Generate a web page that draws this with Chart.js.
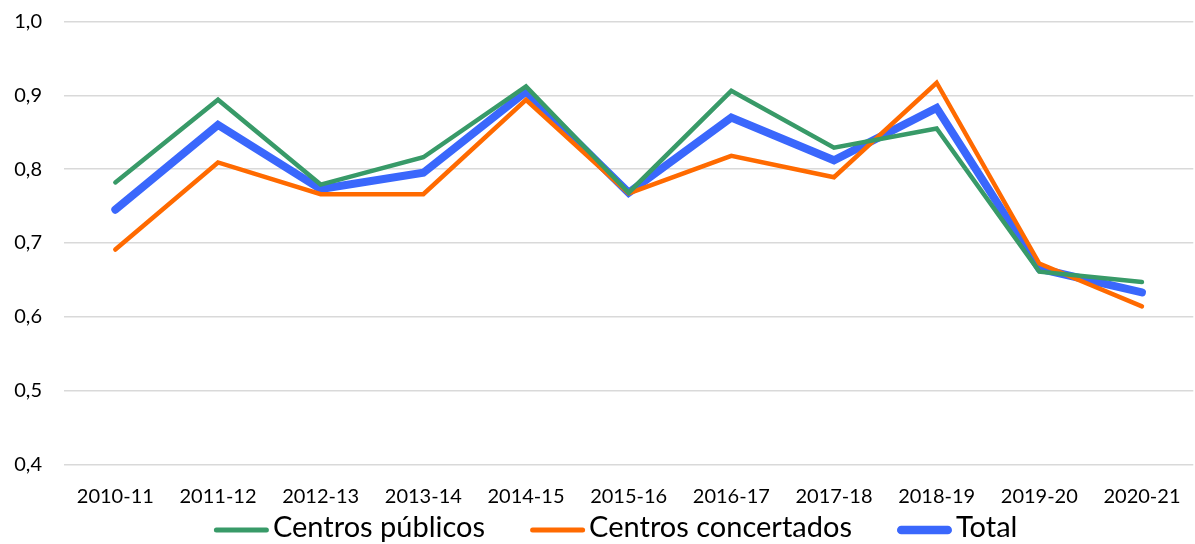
<!DOCTYPE html>
<html>
<head>
<meta charset="utf-8">
<script src="https://cdn.jsdelivr.net/npm/chart.js@4"></script>
<style>
html,body{margin:0;padding:0;background:#fff;}
#wrap{width:1195px;height:544px;}
</style>
</head>
<body>
<div id="wrap"><canvas id="c" width="1195" height="544"></canvas></div>
<script>
const categories = ["2010-11","2011-12","2012-13","2013-14","2014-15","2015-16","2016-17","2017-18","2018-19","2019-20","2020-21"];
const publicos = [0.782,0.894,0.779,0.816,0.912,0.768,0.906,0.829,0.855,0.661,0.647];
const concertados = [0.691,0.809,0.766,0.766,0.894,0.767,0.818,0.789,0.917,0.672,0.614];
const total = [0.745,0.860,0.773,0.795,0.905,0.768,0.870,0.812,0.883,0.665,0.633];
const yTicks = [0.4,0.5,0.6,0.7,0.8,0.9,1.0];

const FONT = "Lato, 'Open Sans', sans-serif";

// Legend drawn below the axis (swatch line + label), Excel style
const bottomLegend = {
  id:'bottomLegend',
  afterDraw(chart){
    const ctx = chart.ctx;
    const sw = 55, gapIn = 4, gapOut = 45, fontSize = 29;
    ctx.save();
    ctx.font = fontSize + 'px ' + FONT;
    const items = chart.data.datasets.map(ds => ({
      text: ds.label, color: ds.borderColor, w: Math.min(ds.borderWidth + 0.5, 8.5),
      tw: ctx.measureText(ds.label).width
    }));
    let totalW = 0;
    items.forEach((it,i)=>{ totalW += sw + gapIn + it.tw + (i < items.length-1 ? gapOut : 0); });
    const ca = chart.chartArea;
    let x = (ca.left + ca.right)/2 - 13 - totalW/2;
    const yText = chart.height - 16;
    const yLine = yText + 2;
    items.forEach(it=>{
      ctx.beginPath();
      ctx.lineCap = 'round';
      ctx.strokeStyle = it.color;
      ctx.lineWidth = it.w;
      ctx.moveTo(x + it.w/2, yLine);
      ctx.lineTo(x + sw - it.w/2, yLine);
      ctx.stroke();
      x += sw + gapIn;
      ctx.fillStyle = '#000';
      ctx.textBaseline = 'middle';
      ctx.textAlign = 'left';
      ctx.fillText(it.text, x, yText);
      x += it.tw + gapOut;
    });
    ctx.restore();
  }
};

new Chart(document.getElementById('c'), {
  type: 'line',
  data: {
    labels: categories,
    datasets: [
      {label:'Centros públicos', data: publicos, borderColor:'#389a68', backgroundColor:'#389a68', borderWidth:4.5},
      {label:'Centros concertados', data: concertados, borderColor:'#ff6a00', backgroundColor:'#ff6a00', borderWidth:4.5},
      {label:'Total', data: total, borderColor:'#3a67fc', backgroundColor:'#3a67fc', borderWidth:8}
    ]
  },
  plugins:[bottomLegend],
  options: {
    responsive:false,
    animation:false,
    devicePixelRatio:1,
    elements:{
      line:{tension:0, borderCapStyle:'round', borderJoinStyle:'miter', fill:false},
      point:{radius:0, hoverRadius:0}
    },
    layout:{padding:{top:21.5, left:0, right:1.7, bottom:35.7}},
    scales:{
      x:{
        offset:true,
        grid:{display:false, drawTicks:false},
        border:{display:false},
        ticks:{color:'#000', font:{family:FONT, size:20}, padding:20, maxRotation:0, autoSkip:false},
        afterFit:(s)=>{ s.height = 44; s.paddingLeft = 0; s.paddingRight = 0; s.paddingTop = 0; s.paddingBottom = 0; }
      },
      y:{
        min:0.4, max:1.0,
        afterBuildTicks:(ax)=>{ ax.ticks = yTicks.map(v=>({value:v})); },
        grid:{color:'#d9d9d9', lineWidth:1.5, drawTicks:false},
        border:{display:false},
        ticks:{color:'#000', font:{family:FONT, size:20}, padding:22,
          callback:(v)=>Number(v).toFixed(1).replace('.',',')},
        afterFit:(s)=>{ s.width = 64; s.paddingTop = 0; s.paddingBottom = 0; s.paddingLeft = 0; s.paddingRight = 0; }
      }
    },
    plugins:{
      tooltip:{enabled:false},
      legend:{display:false}
    }
  }
});
</script>
</body>
</html>
